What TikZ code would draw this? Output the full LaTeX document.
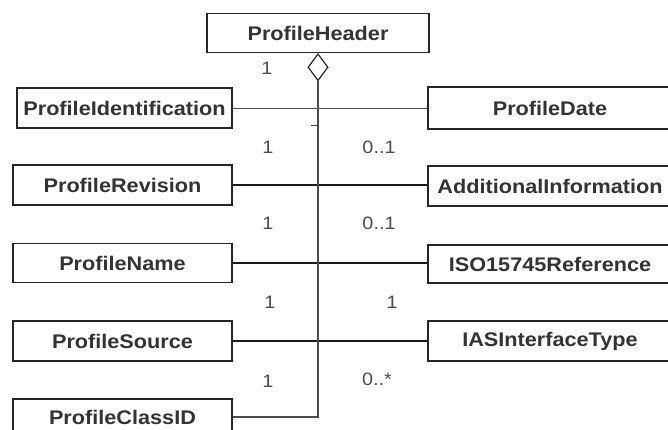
\documentclass[tikz,border=0pt]{standalone}
\usepackage{fontspec}
\setmainfont{Liberation Sans}
\newfontfamily\umlfont[FakeStretch=1.1]{Liberation Sans}
\usetikzlibrary{shapes.geometric, positioning}
\tikzset{
    classbox/.style={draw, rectangle, inner sep=0pt, minimum height=40pt, draw=black!85, line width=1.3pt, text=black!80, font=\umlfont\fontsize{19.7}{23}\selectfont\bfseries},
    leftbox/.style={classbox, minimum width=219pt},
    rightbox/.style={classbox, minimum width=244pt},
    aggr/.style={draw, diamond, inner sep=0pt, minimum width=20pt, minimum height=27pt, draw=black!85, line width=1.2pt, fill=white},
    mult/.style={inner sep=0pt, text=black!70, font=\umlfont\fontsize{18}{22}\selectfont},
    thinlink/.style={draw=black!70, line width=0.8pt},
    thicklink/.style={draw=black!90, line width=1.6pt}
}

\begin{document}
\begin{tikzpicture}[x=1pt, y=-1pt]
        \useasboundingbox (0,0) rectangle (668,430);
        \clip (0,0) rectangle (668,430);

        % -----------------------------------------------------------------
        % CLASSE PRINCIPALE
        % -----------------------------------------------------------------
        \node[classbox, minimum width=222pt, minimum height=39pt] (header) at (318,33) {ProfileHeader};
        \node[aggr, anchor=north] (diam) at (header.south) {};
        \node[mult] (mh) at (267,68) {1};

        % -----------------------------------------------------------------
        % COLONNA SINISTRA
        % -----------------------------------------------------------------
        \node[leftbox, minimum width=215pt] (ident) at (124.5,108) {ProfileIdentification};
        \node[leftbox] (revision) at (122.5,185) {ProfileRevision};
        \node[leftbox, minimum height=39pt] (pname) at (122.5,263) {ProfileName};
        \node[leftbox] (source) at (122.5,341) {ProfileSource};
        \node[leftbox, minimum height=36pt] (classid) at (122.5,417) {ProfileClassID};

        % -----------------------------------------------------------------
        % COLONNA DESTRA
        % -----------------------------------------------------------------
        \node[rightbox, minimum height=42pt] (date) at (550,108) {ProfileDate};
        \node[rightbox] (addinfo) at (550,186) {AdditionalInformation};
        \node[rightbox, minimum height=38pt] (isoref) at (550,264) {ISO15745Reference};
        \node[rightbox] (iastype) at (550,341) {IASInterfaceType};

        % -----------------------------------------------------------------
        % ASSOCIAZIONI
        % -----------------------------------------------------------------
        \draw[thinlink] (ident.east) -- (ident.east -| date.west);
        \draw[thicklink] (revision.east) -- (revision.east -| addinfo.west);
        \draw[thicklink] (pname.east) -- (pname.east -| isoref.west);
        \draw[thicklink] (source.east) -- (source.east -| iastype.west);
        \draw[thinlink, line width=1.1pt] (classid.east) -| (diam.south);
        \draw[thinlink] (311,125) -- (317,125);

        % -----------------------------------------------------------------
        % MOLTEPLICITA'
        % -----------------------------------------------------------------
        \node[mult] (m1l) at (268,147) {1};
        \node[mult] (m1r) at (379,147) {0..1};
        \node[mult] (m2l) at (268,223) {1};
        \node[mult] (m2r) at (379,223) {0..1};
        \node[mult] (m3l) at (270,302) {1};
        \node[mult] (m3r) at (392,302) {1};
        \node[mult] (m4l) at (268,381) {1};
        \node[mult] (m4r) at (377,379) {0..*};

    \end{tikzpicture}
\end{document}
